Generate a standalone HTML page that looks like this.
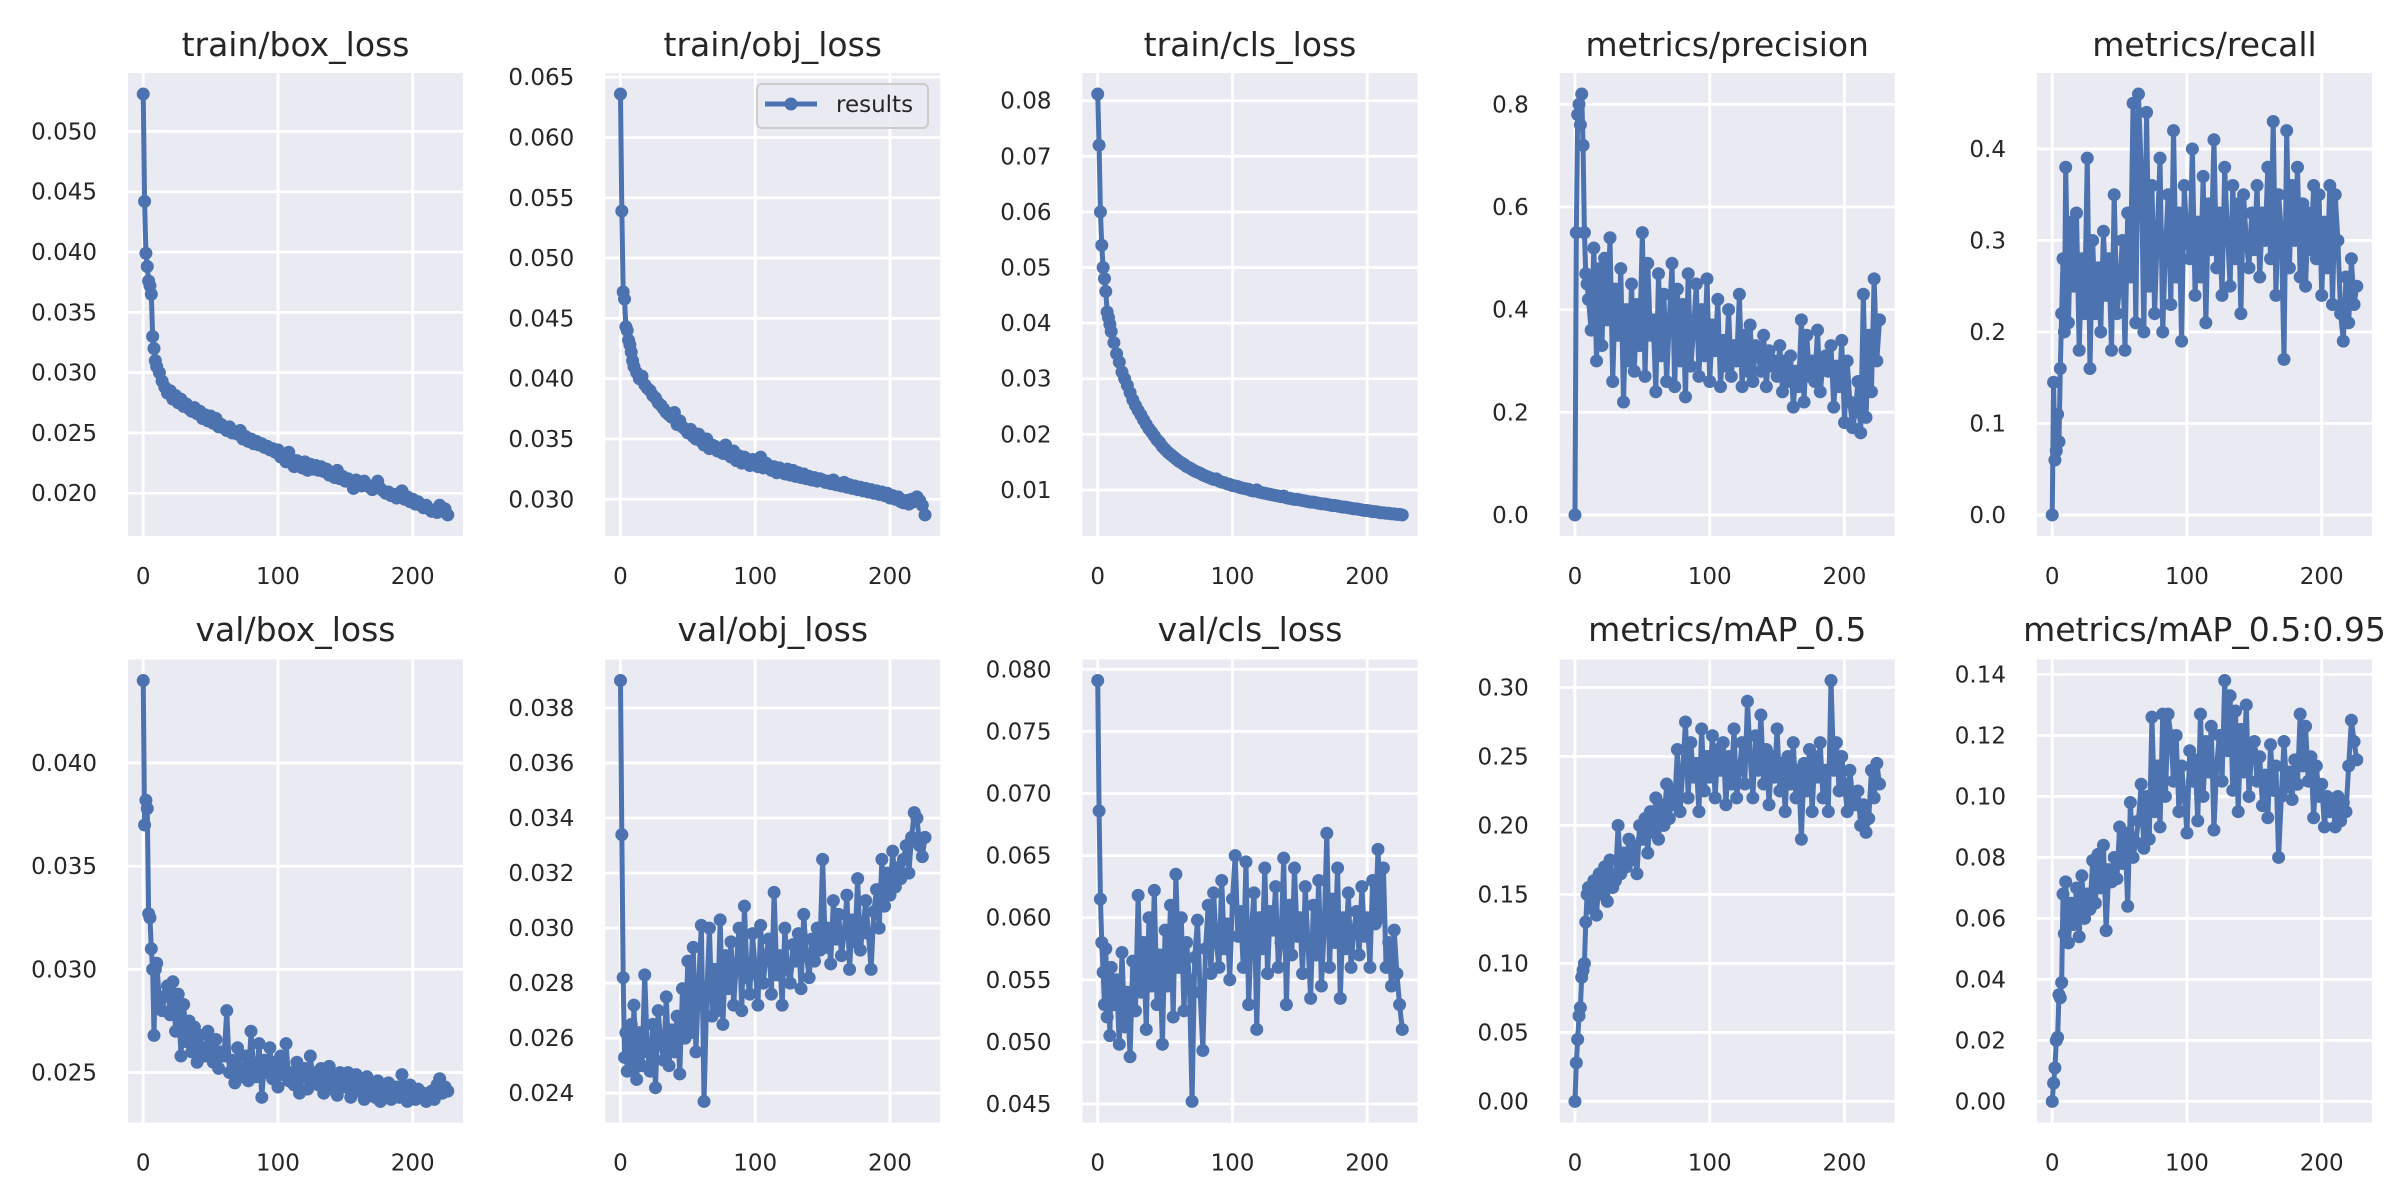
<!DOCTYPE html>
<html><head><meta charset="utf-8"><style>
html,body{margin:0;padding:0;background:#fff;}
svg{display:block;font-family:"DejaVu Sans","Liberation Sans",sans-serif;}
</style></head><body>
<svg id="chart" width="2400" height="1200" viewBox="0 0 2400 1200"></svg>
<script>
const epochs=[0,1,2,3,4,5,6,7,8,9,10,12,14,16,18,20,22,24,26,28,30,32,34,36,38,40,42,44,46,48,50,52,54,56,58,60,62,64,66,68,70,72,74,76,78,80,82,84,86,88,90,92,94,96,98,100,102,104,106,108,110,112,114,116,118,120,122,124,126,128,130,132,134,136,138,140,142,144,146,148,150,152,154,156,158,160,162,164,166,168,170,172,174,176,178,180,182,184,186,188,190,192,194,196,198,200,202,204,206,208,210,212,214,216,218,220,222,224,226];
const titles=["train/box_loss","train/obj_loss","train/cls_loss","metrics/precision","metrics/recall","val/box_loss","val/obj_loss","val/cls_loss","metrics/mAP_0.5","metrics/mAP_0.5:0.95"];
const trainBox=[.0531,.0442,.0399,.0388,.0376,.0372,.0365,.0330,.0320,.0310,
.0305,.0300,.0293,.0288,.0283,.0285,.0278,.0281,.0275,.0278,
.0272,.0274,.0270,.0268,.0271,.0266,.0268,.0262,.0265,.0260,
.0264,.0258,.0262,.0255,.0257,.0254,.0252,.0255,.0250,.0251,
.0249,.0252,.0245,.0247,.0243,.0245,.0241,.0243,.0240,.0241,
.0238,.0239,.0236,.0237,.0234,.0236,.0230,.0232,.0226,.0234,
.0228,.0222,.0227,.0225,.0221,.0226,.0219,.0224,.0220,.0223,
.0219,.0222,.0218,.0220,.0215,.0217,.0213,.0219,.0212,.0214,
.0210,.0212,.0209,.0204,.0211,.0208,.0206,.0210,.0207,.0205,
.0203,.0206,.0210,.0204,.0202,.0200,.0201,.0198,.0199,.0196,
.0200,.0202,.0195,.0197,.0193,.0195,.0191,.0193,.0190,.0188,
.0190,.0187,.0185,.0186,.0184,.0190,.0185,.0187,.0182];
const trainObj=[.0636,.0539,.0472,.0466,.0443,.0440,.0432,.0428,.0422,.0415,
.0410,.0405,.0400,.0402,.0395,.0392,.0390,.0386,.0384,.0380,
.0378,.0375,.0372,.0370,.0368,.0372,.0362,.0365,.0360,.0358,
.0355,.0358,.0352,.0350,.0354,.0348,.0345,.0350,.0342,.0345,
.0344,.0340,.0342,.0338,.0345,.0337,.0335,.0340,.0332,.0336,
.0330,.0335,.0332,.0328,.0333,.0330,.0327,.0335,.0326,.0330,
.0328,.0324,.0327,.0322,.0326,.0323,.0321,.0325,.0320,.0324,
.0319,.0322,.0318,.0321,.0317,.0319,.0316,.0318,.0315,.0317,
.0316,.0314,.0315,.0313,.0316,.0312,.0313,.0311,.0314,.0310,
.0312,.0309,.0311,.0308,.0310,.0307,.0309,.0306,.0308,.0305,
.0307,.0304,.0306,.0303,.0305,.0301,.0303,.0300,.0302,.0298,
.0297,.0299,.0296,.0300,.0298,.0302,.0299,.0295,.0287];
const trainCls=[.0812,.0720,.0600,.0540,.0500,.0480,.0457,.0420,.0410,.0398,
.0385,.0365,.0345,.0330,.0312,.0300,.0288,.0275,.0262,.0252,
.0243,.0235,.0226,.0218,.0210,.0204,.0197,.0190,.0185,.0178,
.0173,.0168,.0164,.0160,.0156,.0152,.0149,.0146,.0142,.0140,
.0137,.0134,.0132,.0130,.0127,.0125,.0123,.0121,.0119,.0120,
.0116,.0114,.0113,.0111,.0110,.0108,.0107,.0106,.0104,.0103,
.0102,.0101,.0099,.0098,.0100,.0096,.0095,.0094,.0093,.0092,
.0091,.0090,.0089,.0088,.0089,.0086,.0085,.0084,.0083,.0083,
.0082,.0081,.0080,.0079,.0078,.0078,.0077,.0076,.0075,.0075,
.0074,.0073,.0072,.0072,.0071,.0070,.0069,.0069,.0068,.0067,
.0066,.0066,.0065,.0064,.0063,.0063,.0062,.0061,.0061,.0060,
.0059,.0059,.0058,.0058,.0057,.0057,.0056,.0056,.0055];
const precision=[0,.55,.78,.80,.76,.82,.72,.55,.47,.45,
.42,.36,.52,.30,.48,.33,.50,.38,.54,.26,
.44,.35,.48,.22,.40,.30,.45,.28,.41,.33,
.55,.27,.49,.35,.38,.24,.47,.31,.43,.26,
.38,.49,.25,.44,.30,.41,.23,.47,.29,.36,
.45,.27,.40,.31,.46,.26,.37,.32,.42,.25,
.34,.29,.40,.27,.33,.30,.43,.25,.35,.28,
.37,.26,.33,.31,.28,.35,.25,.32,.29,.30,
.27,.33,.24,.30,.26,.31,.21,.28,.25,.38,
.22,.35,.27,.30,.26,.36,.24,.29,.31,.28,
.33,.21,.29,.25,.34,.18,.30,.22,.17,.20,
.26,.16,.43,.19,.35,.24,.46,.30,.38];
const recall=[0,.145,.06,.07,.11,.08,.16,.22,.28,.20,
.38,.21,.32,.25,.33,.18,.28,.22,.39,.16,
.30,.22,.27,.20,.31,.24,.28,.18,.35,.22,
.25,.30,.18,.33,.26,.45,.21,.46,.38,.20,
.44,.25,.36,.22,.31,.39,.20,.29,.35,.23,
.42,.26,.33,.19,.36,.30,.28,.40,.24,.32,
.26,.37,.21,.34,.29,.41,.27,.33,.24,.38,
.31,.25,.36,.28,.34,.22,.35,.30,.27,.33,
.29,.36,.26,.33,.30,.38,.28,.43,.24,.35,
.31,.17,.42,.27,.36,.30,.38,.26,.34,.25,
.33,.29,.36,.28,.35,.24,.32,.27,.36,.23,
.35,.30,.22,.19,.26,.21,.28,.23,.25];
const valBox=[.0440,.0370,.0382,.0378,.0327,.0325,.0310,.0300,.0268,.0300,
.0303,.0285,.0280,.0287,.0292,.0278,.0294,.0270,.0288,.0258,
.0283,.0265,.0275,.0260,.0272,.0255,.0268,.0262,.0258,.0270,
.0262,.0255,.0266,.0252,.0260,.0258,.0280,.0250,.0256,.0245,
.0262,.0252,.0248,.0258,.0246,.0270,.0252,.0248,.0264,.0238,
.0256,.0250,.0262,.0247,.0255,.0243,.0258,.0249,.0264,.0246,
.0250,.0244,.0255,.0240,.0248,.0252,.0242,.0258,.0246,.0250,
.0244,.0252,.0240,.0247,.0253,.0242,.0248,.0239,.0250,.0245,
.0243,.0250,.0238,.0246,.0249,.0241,.0245,.0237,.0248,.0240,
.0244,.0238,.0246,.0236,.0242,.0239,.0245,.0237,.0240,.0243,
.0238,.0249,.0241,.0236,.0244,.0239,.0237,.0242,.0238,.0240,
.0236,.0239,.0241,.0237,.0244,.0247,.0240,.0243,.0241];
const valObj=[.0390,.0334,.0282,.0253,.0262,.0248,.0257,.0249,.0265,.0252,
.0272,.0245,.0262,.0250,.0283,.0255,.0248,.0265,.0242,.0270,
.0258,.0252,.0275,.0250,.0263,.0255,.0268,.0247,.0278,.0260,
.0288,.0262,.0293,.0255,.0280,.0301,.0237,.0275,.0300,.0268,
.0285,.0270,.0303,.0265,.0290,.0278,.0295,.0272,.0287,.0300,
.0270,.0308,.0282,.0276,.0298,.0285,.0272,.0301,.0280,.0290,
.0296,.0276,.0313,.0283,.0290,.0272,.0300,.0285,.0280,.0294,
.0288,.0298,.0278,.0305,.0290,.0282,.0296,.0288,.0300,.0292,
.0325,.0293,.0300,.0287,.0310,.0296,.0305,.0290,.0298,.0312,
.0285,.0303,.0295,.0318,.0292,.0300,.0310,.0298,.0285,.0306,
.0314,.0300,.0325,.0308,.0320,.0312,.0328,.0315,.0322,.0318,
.0325,.0330,.0320,.0333,.0342,.0340,.0330,.0326,.0333];
const valCls=[.0791,.0686,.0615,.0580,.0556,.0530,.0575,.0520,.0548,.0505,
.0560,.0530,.0550,.0498,.0572,.0512,.0540,.0488,.0565,.0525,
.0618,.0540,.0580,.0510,.0600,.0545,.0622,.0530,.0570,.0498,
.0590,.0545,.0610,.0520,.0635,.0560,.0600,.0525,.0580,.0550,
.0452,.0568,.0598,.0540,.0493,.0575,.0610,.0555,.0620,.0580,
.0560,.0630,.0575,.0595,.0550,.0615,.0650,.0585,.0605,.0560,
.0645,.0530,.0590,.0620,.0510,.0600,.0575,.0640,.0555,.0605,
.0590,.0625,.0560,.0580,.0648,.0530,.0610,.0570,.0640,.0585,
.0600,.0555,.0625,.0580,.0535,.0610,.0570,.0630,.0545,.0590,
.0668,.0560,.0615,.0580,.0640,.0535,.0600,.0575,.0620,.0560,
.0590,.0605,.0570,.0625,.0585,.0600,.0560,.0630,.0595,.0655,
.0600,.0640,.0560,.0580,.0545,.0590,.0555,.0530,.0510];
const map50=[0,.028,.045,.062,.068,.09,.095,.10,.13,.15,
.155,.14,.16,.135,.165,.15,.17,.145,.175,.155,
.16,.20,.165,.18,.17,.19,.175,.185,.165,.20,
.19,.205,.18,.21,.195,.22,.19,.215,.20,.23,
.205,.225,.215,.255,.21,.24,.275,.22,.26,.235,
.245,.21,.27,.225,.25,.235,.265,.22,.255,.24,
.26,.215,.25,.23,.27,.22,.24,.26,.23,.29,
.25,.22,.265,.24,.28,.23,.255,.215,.25,.235,
.27,.225,.245,.21,.25,.23,.26,.22,.24,.19,
.245,.225,.255,.21,.25,.235,.26,.22,.24,.21,
.305,.24,.26,.225,.25,.23,.21,.24,.22,.215,
.225,.20,.215,.195,.205,.24,.22,.245,.23];
const map5095=[0,.006,.011,.020,.021,.035,.034,.039,.068,.055,
.072,.052,.065,.058,.070,.054,.074,.060,.068,.063,
.079,.065,.081,.070,.084,.056,.076,.072,.080,.073,
.090,.078,.088,.064,.098,.080,.085,.092,.104,.083,
.100,.086,.126,.095,.110,.090,.127,.100,.127,.120,
.105,.120,.095,.110,.100,.088,.115,.105,.112,.092,
.127,.100,.118,.108,.123,.089,.110,.120,.105,.138,
.115,.133,.102,.128,.095,.122,.108,.130,.100,.115,
.118,.105,.113,.097,.107,.093,.117,.102,.110,.080,
.100,.118,.103,.108,.099,.112,.104,.127,.110,.123,
.105,.113,.093,.110,.100,.104,.090,.100,.095,.099,
.090,.100,.092,.098,.095,.110,.125,.118,.112];
const xTicks=[0,100,200];
const yTicks0=["0.020","0.025","0.030","0.035","0.040","0.045","0.050"];
const yTicks1=["0.030","0.035","0.040","0.045","0.050","0.055","0.060","0.065"];
const yTicks2=["0.01","0.02","0.03","0.04","0.05","0.06","0.07","0.08"];
const yTicks3=["0.0","0.2","0.4","0.6","0.8"];
const yTicks4=["0.0","0.1","0.2","0.3","0.4"];
const yTicks5=["0.025","0.030","0.035","0.040"];
const yTicks6=["0.024","0.026","0.028","0.030","0.032","0.034","0.036","0.038"];
const yTicks7=["0.045","0.050","0.055","0.060","0.065","0.070","0.075","0.080"];
const yTicks8=["0.00","0.05","0.10","0.15","0.20","0.25","0.30"];
const yTicks9=["0.00","0.02","0.04","0.06","0.08","0.10","0.12","0.14"];

const series=[trainBox,trainObj,trainCls,precision,recall,valBox,valObj,valCls,map50,map5095];
const yTickSets=[yTicks0,yTicks1,yTicks2,yTicks3,yTicks4,yTicks5,yTicks6,yTicks7,yTicks8,yTicks9];
const NS="http://www.w3.org/2000/svg";
const svg=document.getElementById('chart');
function mk(tag,attrs,parent){const e=document.createElementNS(NS,tag);for(const k in attrs)e.setAttribute(k,attrs[k]);(parent||svg).appendChild(e);return e;}
const AX_W=335, AX_H=463;
function slug(t){return t.replace(/[^a-z0-9]+/gi,'-').toLowerCase().replace(/^-|-$/g,'');}
series.forEach((vals,p)=>{
  const col=p%5,row=Math.floor(p/5);
  const L=128+477.25*col, T=row===0?73:659.5, B=T+AX_H, R=L+AX_W;
  const g=mk('g',{});
  
  
  const n=Math.min(vals.length,epochs.length);
  let xmin=Math.min(...epochs.slice(0,n)),xmax=Math.max(...epochs.slice(0,n));
  let ymin=Math.min(...vals.slice(0,n)),ymax=Math.max(...vals.slice(0,n));
  const xm=(xmax-xmin)*0.05, ym=(ymax-ymin)*0.05;
  const x0=xmin-xm,x1=xmax+xm,y0=ymin-ym,y1=ymax+ym;
  const sx=v=>L+(v-x0)/(x1-x0)*AX_W;
  const sy=v=>B-(v-y0)/(y1-y0)*AX_H;
  const bg=mk('rect',{x:L,y:T,width:AX_W,height:AX_H,fill:'#EAEAF2'},g);
  
  
  const grid=mk('g',{stroke:'#fff','stroke-width':2.8},g);
  xTicks.forEach(t=>{
    const x=sx(t);
    mk('line',{x1:x,x2:x,y1:T,y2:B},grid);
    const lb=mk('text',{x:x,y:B+48,'text-anchor':'middle','font-size':23,fill:'#262626'},g);
    lb.textContent=String(t);
    
    
  });
  yTickSets[p].forEach(s=>{
    const v=parseFloat(s); if(v<y0||v>y1) return;
    const y=sy(v);
    mk('line',{x1:L,x2:R,y1:y,y2:y},grid);
    const lb=mk('text',{x:L-31,y:y+8,'text-anchor':'end','font-size':23,fill:'#262626'},g);
    lb.textContent=s;
    
    
  });
  const tt=mk('text',{x:L+AX_W/2,y:row===0?56:641,'text-anchor':'middle','font-size':33,fill:'#262626'},g);
  tt.textContent=titles[p];
  
  
  let d='';
  for(let i=0;i<n;i++){d+=(i?'L':'M')+sx(epochs[i]).toFixed(2)+' '+sy(vals[i]).toFixed(2);}
  const line=mk('path',{d:d,fill:'none',stroke:'#4C72B0','stroke-width':5,'stroke-linejoin':'round'},g);
  
  
  const pts=mk('g',{fill:'#4C72B0'},g);
  
  
  for(let i=0;i<n;i++){mk('circle',{cx:sx(epochs[i]),cy:sy(vals[i]),r:6.5},pts);}
  if(p===1){
    const lg=mk('g',{},g);
    
    
    mk('rect',{x:757,y:84,width:171,height:44,rx:5,fill:'#EAEAF2','fill-opacity':0.8,stroke:'#CCCCCC','stroke-width':2},lg);
    mk('line',{x1:765,x2:817,y1:104,y2:104,stroke:'#4C72B0','stroke-width':5},lg);
    mk('circle',{cx:791,cy:104,r:6.5,fill:'#4C72B0'},lg);
    const lt=mk('text',{x:836,y:112,'font-size':23,fill:'#262626'},lg);
    lt.textContent='results';
    
    
  }
});
</script>
</body></html>
